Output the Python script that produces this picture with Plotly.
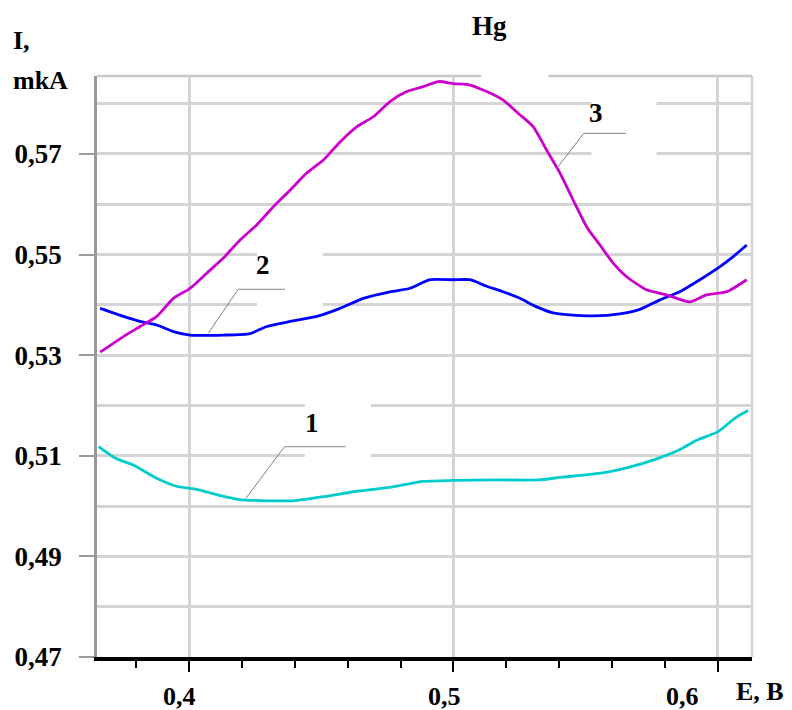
import plotly.graph_objects as go

# ---- data (E in V, I in mkA) ----
e1 = [0.3658, 0.3722, 0.3787, 0.3868, 0.3949, 0.4029, 0.4110, 0.4191, 0.4272, 0.4401,
      0.4514, 0.4628, 0.4757, 0.4886, 0.4999, 0.5161, 0.5322, 0.5403, 0.5564, 0.5662,
      0.5758, 0.5855, 0.5920, 0.6001, 0.6065, 0.6114]
i1 = [0.5118, 0.5095, 0.5082, 0.5058, 0.5040, 0.5033, 0.5022, 0.5013, 0.5011, 0.5011,
      0.5019, 0.5029, 0.5037, 0.5049, 0.5051, 0.5052, 0.5052, 0.5057, 0.5066, 0.5077,
      0.5092, 0.5112, 0.5131, 0.5148, 0.5175, 0.5190]

e2 = [0.3664, 0.3752, 0.3815, 0.3878, 0.3941, 0.4004, 0.4130, 0.4231, 0.4294, 0.4382,
      0.4483, 0.4571, 0.4659, 0.4760, 0.4836, 0.4911, 0.4999, 0.5062, 0.5126, 0.5188,
      0.5251, 0.5315, 0.5377, 0.5440, 0.5529, 0.5629, 0.5705, 0.5781, 0.5856, 0.5932,
      0.6008, 0.6058, 0.6109]
i2 = [0.5393, 0.5377, 0.5367, 0.5360, 0.5347, 0.5340, 0.5340, 0.5343, 0.5357, 0.5367,
      0.5377, 0.5393, 0.5413, 0.5426, 0.5433, 0.5450, 0.5450, 0.5450, 0.5437, 0.5426,
      0.5413, 0.5396, 0.5384, 0.5380, 0.5378, 0.5382, 0.5391, 0.5410, 0.5426, 0.5450,
      0.5476, 0.5496, 0.5519]

e3 = [0.3664, 0.3752, 0.3815, 0.3878, 0.3941, 0.4004, 0.4067, 0.4130, 0.4193, 0.4256,
      0.4319, 0.4382, 0.4445, 0.4508, 0.4571, 0.4634, 0.4697, 0.4760, 0.4823, 0.4886,
      0.4943, 0.4999, 0.5062, 0.5126, 0.5188, 0.5251, 0.5302, 0.5352, 0.5403, 0.5453,
      0.5504, 0.5554, 0.5604, 0.5655, 0.5730, 0.5806, 0.5894, 0.5957, 0.6033, 0.6109]
i3 = [0.5306, 0.5337, 0.5357, 0.5377, 0.5413, 0.5433, 0.5463, 0.5493, 0.5529, 0.5559,
      0.5595, 0.5628, 0.5662, 0.5688, 0.5724, 0.5754, 0.5774, 0.5804, 0.5824, 0.5834,
      0.5844, 0.5840, 0.5837, 0.5824, 0.5807, 0.5778, 0.5754, 0.5708, 0.5662, 0.5608,
      0.5555, 0.5519, 0.5483, 0.5456, 0.5430, 0.5420, 0.5406, 0.5420, 0.5426, 0.5450]

series_labels = ["1", "2", "3"]
colors = ["#00CCCC", "#0000FF", "#CC00CC"]

x_tick_vals = [0.4, 0.5, 0.6]
x_tick_text = ["0,4", "0,5", "0,6"]
x_tick_shift = [-10, -9, -35]   # labels sit left of their ticks in the original

# leader lines: (point on curve, knee, end of horizontal), label position
leaders = [
    ((0.4216, 0.5016), (0.4361, 0.5118), (0.4592, 0.5118), (0.4465, 0.5165)),
    ((0.4073, 0.5344), (0.4186, 0.5431), (0.4363, 0.5431), (0.4281, 0.5480)),
    ((0.5390, 0.5671), (0.5493, 0.5741), (0.5652, 0.5741), (0.5539, 0.5782)),
]
# white boxes behind labels (x0, x1, y0, y1)
masks = [
    (0.4438, 0.4688, 0.5085, 0.5215),
    (0.4257, 0.4506, 0.5385, 0.5515),
    (0.5522, 0.5768, 0.5685, 0.5815),
]

X_RANGE = [0.3652, 0.6129]
Y_RANGE = [0.47, 0.5855]

SERIF = "Liberation Serif"
GRID = "#d4d4d4"

# page is 792x710; the figure div sits 8px in from the top-left corner
OFF = 8
W, H = 792 - OFF, 710 - OFF
ML, MR, MT, MB = 97 - OFF, 40, 76 - OFF, 53
pw, ph = W - ML - MR, H - MT - MB

fig = go.Figure()
for e, i, c, n in zip([e1, e2, e3], [i1, i2, i3], colors, series_labels):
    fig.add_trace(go.Scatter(x=e, y=i, mode="lines", name=n,
                             line=dict(color=c, width=2.8, shape="spline", smoothing=0.6),
                             showlegend=False))

shapes = [
    dict(type="line", xref="paper", yref="paper", x0=0, x1=1, y0=1, y1=1,
         line=dict(color="#c8c8c8", width=2.5), layer="between"),
    dict(type="line", xref="paper", yref="paper", x0=1, x1=1, y0=0, y1=1,
         line=dict(color="#d4d4d4", width=2.5), layer="between"),
    # gap in top border behind title
    dict(type="rect", xref="x", yref="paper", x0=0.5105, x1=0.5359, y0=0.985, y1=1.02,
         fillcolor="white", line=dict(width=0), layer="between"),
]
for (x0, x1, y0, y1) in masks:
    shapes.append(dict(type="rect", xref="x", yref="y", x0=x0, x1=x1, y0=y0, y1=y1,
                       fillcolor="white", line=dict(width=0), layer="between"))
annotations = []
for (p, k, h, lab), n in zip(leaders, series_labels):
    shapes.append(dict(type="line", xref="x", yref="y", x0=p[0], y0=p[1], x1=k[0], y1=k[1],
                       line=dict(color="#808080", width=1), layer="above"))
    shapes.append(dict(type="line", xref="x", yref="y", x0=k[0], y0=k[1], x1=h[0], y1=h[1],
                       line=dict(color="#808080", width=1), layer="above"))
    annotations.append(dict(x=lab[0], y=lab[1], xref="x", yref="y", text=f"<b>{n}</b>",
                            showarrow=False, font=dict(family=SERIF, size=27, color="black")))

# x tick labels, positioned on the x scale
for v, t, s in zip(x_tick_vals, x_tick_text, x_tick_shift):
    annotations.append(dict(x=v, y=0, xref="x", yref="paper", text=f"<b>{t}</b>",
                            showarrow=False, xshift=s, yanchor="middle", yshift=-39,
                            font=dict(family=SERIF, size=26, color="black")))

# texts placed by pixel position on the page (xanchor, page x, page y, size)
page_texts = [
    ("<b>Hg</b>", "center", 489, 26, 27),
    ("<b>I,</b>", "left", 11, 41, 26),
    ("<b>mkA</b>", "left", 11, 80, 26),
    ("<b>E, B</b>", "center", 760, 691, 26),
]
for txt, xa, px, py, sz in page_texts:
    annotations.append(dict(x=(px - OFF - ML) / pw, y=(H - MB - (py - OFF)) / ph,
                            xref="paper", yref="paper", xanchor=xa, yanchor="middle",
                            text=txt, showarrow=False,
                            font=dict(family=SERIF, size=sz, color="black")))

fig.update_layout(
    width=W, height=H,
    margin=dict(l=ML, r=MR, t=MT, b=MB),
    paper_bgcolor="white", plot_bgcolor="white",
    separators=", ",
    shapes=shapes, annotations=annotations,
    font=dict(family=SERIF, size=26, color="black"),
)
fig.update_xaxes(
    range=X_RANGE, tickvals=x_tick_vals, showticklabels=False, automargin=False,
    showgrid=True, gridcolor=GRID, gridwidth=2.5, zeroline=False,
    showline=True, linecolor="black", linewidth=4,
    ticks="outside", ticklen=11, tickwidth=2, tickcolor="black",
    minor=dict(dtick=0.02, tick0=0.4, ticks="outside", ticklen=7, tickwidth=2,
               tickcolor="black", showgrid=False),
)
fig.update_yaxes(
    range=Y_RANGE, tick0=0.47, dtick=0.02, tickformat=".2f", automargin=False,
    showgrid=True, gridcolor=GRID, gridwidth=2.5, zeroline=False,
    showline=True, linecolor="#999999", linewidth=2.5,
    ticks="outside", ticklen=15, tickwidth=2, tickcolor="#999999",
    ticklabelstandoff=12,
    tickfont=dict(family=SERIF, size=27, color="black", weight="bold"),
    minor=dict(dtick=0.01, tick0=0.47, ticks="", showgrid=True, gridcolor=GRID, gridwidth=2.5),
)

fig.write_html("out.html")
